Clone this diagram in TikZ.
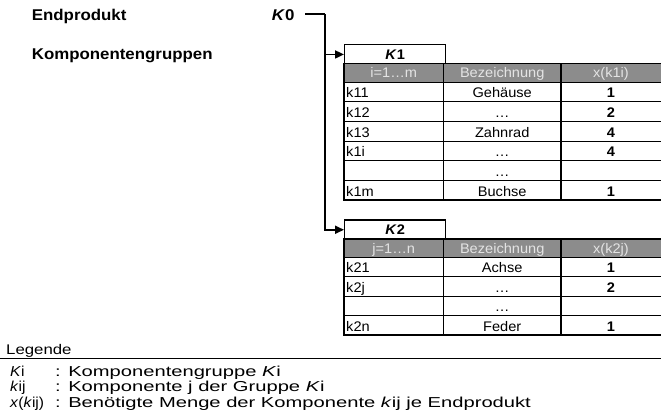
\documentclass[tikz,border=0pt]{standalone}
\usepackage{fontspec}
\setmainfont{Liberation Sans}
\newfontfamily\headfont[FakeStretch=1.08]{Liberation Sans}
\newfontfamily\tabfont[FakeStretch=1.05]{Liberation Sans}
\newfontfamily\legfont[FakeStretch=1.4]{Liberation Sans}
\newfontfamily\legkeyfont[FakeStretch=1.08]{Liberation Sans}
\newfontfamily\legtitlefont[FakeStretch=1.2]{Liberation Sans}
\usetikzlibrary{arrows.meta}

\definecolor{hdrgray}{RGB}{140,140,140}
\definecolor{hdrtext}{RGB}{228,228,228}

\tikzset{
  headtext/.style={anchor=base west, inner sep=0pt, font=\headfont\fontsize{15.6}{17}\selectfont\bfseries},
  celltext/.style={anchor=base, inner sep=0pt, font=\tabfont\fontsize{13.9}{15}\selectfont},
  cellleft/.style={celltext, anchor=base west},
  cellnum/.style={celltext, font=\tabfont\fontsize{13.9}{15}\selectfont\bfseries},
  hdrcell/.style={celltext, text=hdrtext},
  titlebox/.style={draw, line width=1.4pt, fill=white, anchor=north west, inner sep=0pt,
    minimum width=101pt, minimum height=19.5pt, font=\tabfont\fontsize{13.9}{15}\selectfont\bfseries},
  rowline/.style={line width=0.9pt},
  colline/.style={line width=1.4pt},
  frameline/.style={line width=1.6pt},
  conn/.style={line width=1.8pt},
  connarrow/.style={conn, -{Triangle[length=9pt,width=8pt]}},
  legtext/.style={anchor=base west, inner sep=0pt, font=\legfont\fontsize{14.4}{16}\selectfont},
  legkey/.style={legtext, font=\legkeyfont\fontsize{14.4}{16}\selectfont},
}

\begin{document}
\begin{tikzpicture}[x=1pt,y=-1pt]
\useasboundingbox (0,0) rectangle (661,418);

% level labels
\node[headtext] (endp) at (31.7,20.7) {Endprodukt};
\node[headtext] (kgrp) at (31.7,59.3) {Komponentengruppen};
\node[headtext] (k0) at (271.7,20.7) {\textit{K}0};

% ---------- group K1 ----------
\node[titlebox] (k1title) at (344,44) {\textit{K}1};
\fill[hdrgray] (344,63.5) rectangle (662,82);
\node[hdrcell] (k1h1) at (393.7,77.7) {i=1…m};
\node[hdrcell] (k1h2) at (502.2,77.7) {Bezeichnung};
\node[hdrcell] (k1h3) at (611,77.7) {x(k1i)};
\foreach [count=\n] \ca/\cb/\cc in {k11/Gehäuse/1, k12/…/2, k13/Zahnrad/4, k1i/…/4, /…/, k1m/Buchse/1}{
  \pgfmathsetmacro\yb{82+\n*19.67}
  \draw[rowline] (344,\yb) -- (662,\yb);
  \node[cellleft] (k1r\n a) at (346,\yb-4) {\ca};
  \node[celltext] (k1r\n b) at (502.2,\yb-4) {\cb};
  \node[cellnum] (k1r\n c) at (611,\yb-4) {\cc};
}
\draw[rowline] (344,82) -- (662,82);
\draw[colline] (443.5,63.5) -- (443.5,200) (561,63.5) -- (561,200);
\draw[frameline] (344,63.5) rectangle (663,200);

% ---------- group K2 ----------
\node[titlebox] (k2title) at (344,219.3) {\textit{K}2};
\fill[hdrgray] (344,238.8) rectangle (662,257.5);
\node[hdrcell] (k2h1) at (393.7,253.3) {j=1…n};
\node[hdrcell] (k2h2) at (502.2,253.3) {Bezeichnung};
\node[hdrcell] (k2h3) at (611,253.3) {x(k2j)};
\foreach [count=\n] \ca/\cb/\cc in {k21/Achse/1, k2j/…/2, /…/, k2n/Feder/1}{
  \pgfmathsetmacro\yb{257.5+\n*19.4}
  \draw[rowline] (344,\yb) -- (662,\yb);
  \node[cellleft] (k2r\n a) at (346,\yb-4) {\ca};
  \node[celltext] (k2r\n b) at (502.2,\yb-4) {\cb};
  \node[cellnum] (k2r\n c) at (611,\yb-4) {\cc};
}
\draw[rowline] (344,257.5) -- (662,257.5);
\draw[colline] (443.5,238.8) -- (443.5,335) (561,238.8) -- (561,335);
\draw[frameline] (344,238.8) rectangle (663,335);

% ---------- connectors ----------
\coordinate (k0out) at (305,14);
\coordinate (trunk) at (325,14);
\draw[conn] (k0out) -- (trunk);
\draw[connarrow] (trunk) |- (k1title.west);
\draw[connarrow] (trunk) |- (k2title.west);

% ---------- legend ----------
\node[legtext, font=\legtitlefont\fontsize{14}{16}\selectfont] (leg) at (6,354.5) {Legende};
\draw[line width=1.2pt] (0,358.5) -- (661,358.5);
\node[legkey] (l1a) at (10,376) {\textit{K}i};
\node[legtext] (l1b) at (55,376) {: Komponentengruppe \textit{K}i};
\node[legkey] (l2a) at (10,391.5) {\textit{k}ij};
\node[legtext] (l2b) at (55,391.5) {: Komponente j der Gruppe \textit{K}i};
\node[legkey] (l3a) at (10,407) {\textit{x}(\textit{k}ij)};
\node[legtext] (l3b) at (55,407) {: Benötigte Menge der Komponente \textit{k}ij je Endprodukt};
\end{tikzpicture}
\end{document}
